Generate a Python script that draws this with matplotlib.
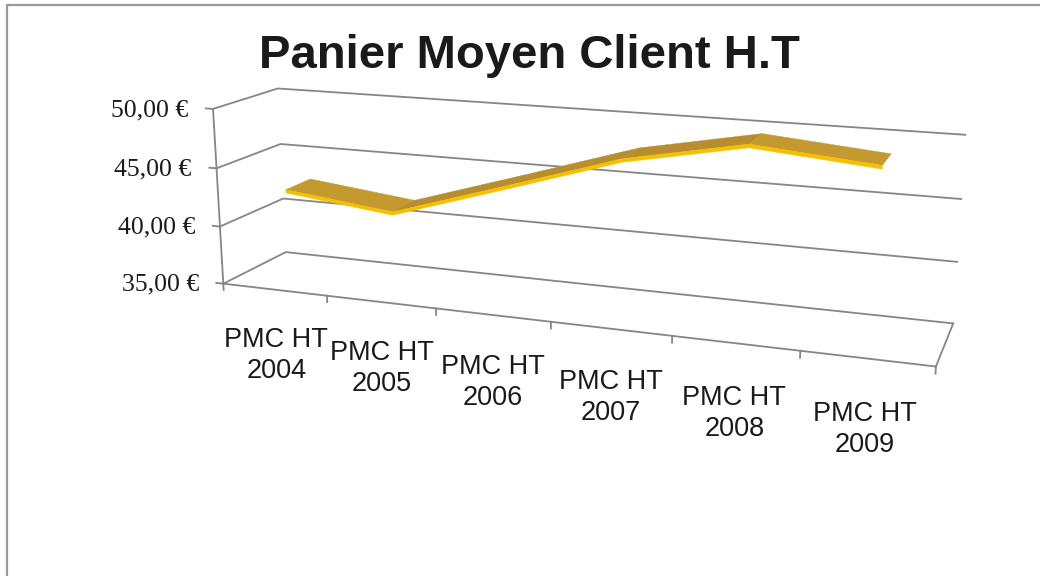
import matplotlib
matplotlib.use('Agg')
import matplotlib.pyplot as plt
from matplotlib.patches import Rectangle
from mpl_toolkits.mplot3d.art3d import Poly3DCollection

years = ['2004', '2005', '2006', '2007', '2008', '2009']
labels = ['PMC HT\n' + y for y in years]
pmc = [43.0, 41.95, 44.9, 47.9, 49.75, 48.9]
yticks = [35, 40, 45, 50]
ytick_labels = ['35,00 €', '40,00 €', '45,00 €', '50,00 €']

grid_color = '#868686'
top_up = '#B78D2E'
top_down = '#C4992F'
edge_yellow = '#F5C000'

fig = plt.figure(figsize=(10.4, 5.76), dpi=100)
ax = fig.add_axes([0.544 - 0.5, 0.616 - 0.5, 1, 1], projection='3d')
ax.set_proj_type('persp', focal_length=0.50)
ax.view_init(elev=14.5, azim=-70)
ax.set_box_aspect((3.95, 0.69, 1), zoom=1.305)
ax.set_axis_off()
n = len(years)
ax.set_xlim(0, n)
ax.set_ylim(0, 1)
ax.set_zlim(yticks[0], yticks[-1])

gl = dict(color=grid_color, lw=1.3, clip_on=False)
# walls: left wall + back wall gridlines
for z in yticks:
    ax.plot([0, 0, n], [0, 1, 1], [z, z, z], **gl)
# floor front and right edge
z0 = yticks[0]
ax.plot([0, n, n], [0, 0, 1], [z0, z0, z0], **gl)
# value axis
ax.plot([0, 0], [0, 0], [z0, yticks[-1]], **gl)
for z, lab in zip(yticks, ytick_labels):
    ax.plot([0, -0.07], [0, 0], [z, z], **gl)
    ax.text(-0.25, 0, z - 0.82, lab, ha='right', va='baseline', fontsize=18.5,
            family='Liberation Serif', color='#1a1a1a', clip_on=False)
# category ticks and labels
for i in range(n + 1):
    ax.plot([i, i], [0, 0], [z0, z0 - 0.55], **gl)
for i, lab in enumerate(labels):
    ax.text(i + 0.5, 0, z0 - 3.3, lab, ha='center', va='top', fontsize=19.5,
            family='Liberation Sans', color='#1a1a1a', linespacing=1.25,
            clip_on=False)

# ribbon
y0, y1, t = 0.25, 0.65, 0.28
faces, colors = [], []
for i in range(n - 1):
    xa, xb = i + 0.5, i + 1.5
    za, zb = pmc[i], pmc[i + 1]
    faces.append([(xa, y0, za), (xb, y0, zb), (xb, y1, zb), (xa, y1, za)])
    colors.append(top_up if zb > za else top_down)
    faces.append([(xa, y0, za), (xb, y0, zb), (xb, y0, zb - t), (xa, y0, za - t)])
    colors.append(edge_yellow)
ribbon = Poly3DCollection(faces, facecolors=colors, edgecolors=colors, linewidths=0.3)
ribbon.set_clip_on(False)
ax.add_collection3d(ribbon)

fig.text(0.509, 1 - 68 / 576, 'Panier Moyen Client H.T', ha='center', va='baseline',
         fontsize=34, fontweight='bold', family='Liberation Sans', color='#1a1a1a')

fig.add_artist(Rectangle((6.5 / 1040, -0.1), 1.2, 1 - 4.5 / 576 + 0.1,
                         transform=fig.transFigure, fill=False,
                         edgecolor='#9a9a9a', lw=1.6))

fig.savefig('out.png', dpi=100)
